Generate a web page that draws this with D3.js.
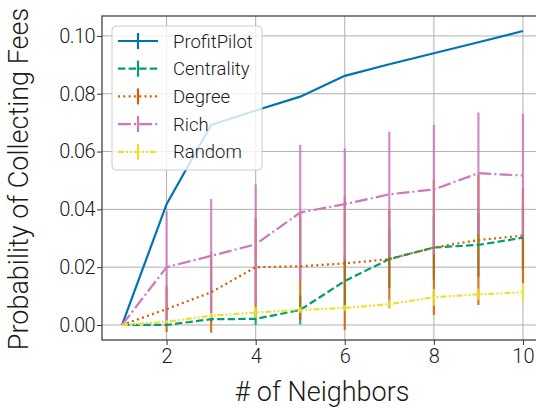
<!DOCTYPE html>
<html><head><meta charset="utf-8">
<script src="https://cdn.jsdelivr.net/npm/d3@7"></script>
<style>
body{margin:0;background:#fff;}
text{font-family:Roboto,"DejaVu Sans",sans-serif;font-weight:300;fill:#1a1a1a;}
</style></head>
<body><svg id="c" width="536" height="410"></svg>
<script>
const neighbors = [1,2,3,4,5,6,7,8,9,10];
const seriesNames = ["ProfitPilot","Centrality","Degree","Rich","Random"];
const profitPilot = [0, 0.0418, 0.0692, 0.0742, 0.0790, 0.0862, 0.0902, 0.0940, 0.0978, 0.1017];
const profitPilotErr = [0,0,0,0,0,0,0,0,0,0];
const centrality = [0, 0.0000, 0.0020, 0.0021, 0.0052, 0.0152, 0.0228, 0.0268, 0.0277, 0.0302];
const centralityErr = [0, 0.0004, 0.0010, 0.0020, 0.0050, 0.0090, 0.0100, 0.0110, 0.0110, 0.0110];
const degree = [0, 0.0055, 0.0113, 0.0200, 0.0203, 0.0213, 0.0228, 0.0268, 0.0294, 0.0309];
const degreeErr = [0, 0.0080, 0.0140, 0.0170, 0.0186, 0.0230, 0.0170, 0.0233, 0.0225, 0.0165];
const rich = [0, 0.0200, 0.0239, 0.0279, 0.0389, 0.0418, 0.0452, 0.0469, 0.0525, 0.0517];
const richErr = [0, 0.0194, 0.0197, 0.0207, 0.0234, 0.0193, 0.0217, 0.0223, 0.0210, 0.0214];
const random = [0, 0.0011, 0.0032, 0.0043, 0.0052, 0.0059, 0.0072, 0.0096, 0.0106, 0.0113];
const randomErr = [0, 0.0005, 0.0010, 0.0020, 0.0010, 0.0010, 0.0015, 0.0029, 0.0020, 0.0030];
const xTicks = [2,4,6,8,10];
const yTicks = [0,0.02,0.04,0.06,0.08,0.10];
const colors = ["#0173B2","#029E73","#D55E00","#CC78BC","#ECE133"];
const dashes = [null,"7.4,3.2","2,3.3","12.8,3.2,2,3.2","6,2,2,2,2,2"];

const values = [profitPilot, centrality, degree, rich, random];
const errs = [profitPilotErr, centralityErr, degreeErr, richErr, randomErr];

const svg = d3.select("#c");
const L=102, R=543, T=16, B=340;
const x = d3.scaleLinear().domain([0.55,10.45]).range([L,R]);
const y = d3.scaleLinear().domain([-0.0052,0.1069]).range([B,T]);

// grid
const g = svg.append("g");
g.selectAll(".gx").data(xTicks).enter().append("line")
  .attr("x1",d=>x(d)).attr("x2",d=>x(d)).attr("y1",T).attr("y2",B)
  .attr("stroke","#b0b0b0").attr("stroke-width",1);
g.selectAll(".gy").data(yTicks).enter().append("line")
  .attr("x1",L).attr("x2",R).attr("y1",d=>y(d)).attr("y2",d=>y(d))
  .attr("stroke","#b0b0b0").attr("stroke-width",1);

// error bars (drawn beneath lines)
values.forEach((vals,si)=>{
  svg.append("g").selectAll("line").data(neighbors).enter().append("line")
    .attr("x1",d=>x(d)).attr("x2",d=>x(d))
    .attr("y1",(d,i)=>y(vals[i]-errs[si][i])).attr("y2",(d,i)=>y(vals[i]+errs[si][i]))
    .attr("stroke",colors[si]).attr("stroke-width",2.2).attr("opacity",0.85);
});
// lines
values.forEach((vals,si)=>{
  const line = d3.line().x((d,i)=>x(neighbors[i])).y(d=>y(d));
  svg.append("path").datum(vals).attr("d",line).attr("fill","none")
    .attr("stroke",colors[si]).attr("stroke-width",2.2)
    .attr("stroke-dasharray",dashes[si]);
});

// axes
const xAxis = d3.axisBottom(x).tickValues(xTicks).tickFormat(d3.format("d")).tickSize(5).tickPadding(4);
const yAxis = d3.axisLeft(y).tickValues(yTicks).tickFormat(d3.format(".2f")).tickSize(5).tickPadding(2);
const xa = svg.append("g").attr("transform",`translate(0,${B})`).call(xAxis);
const ya = svg.append("g").attr("transform",`translate(${L},0)`).call(yAxis);
[xa,ya].forEach(a=>{
  a.select(".domain").remove();
  a.selectAll(".tick line").attr("stroke","#333");
  a.selectAll("text").style("font-family","Roboto").style("font-weight","300").attr("fill","#1a1a1a");
});
xa.selectAll("text").style("font-size","20px");
ya.selectAll("text").style("font-size","20px").style("letter-spacing","-0.6px");
// spines
svg.append("rect").attr("x",L).attr("y",T).attr("width",R-L).attr("height",B-T)
  .attr("fill","none").attr("stroke","#333").attr("stroke-width",1.2);

// labels
svg.append("text").attr("x",322).attr("y",401).attr("text-anchor","middle")
  .style("font-size","27px").text("# of Neighbors");
svg.append("text").attr("transform","translate(28,179) rotate(-90)").attr("text-anchor","middle")
  .style("font-size","27px").text("Probability of Collecting Fees");

// legend
const lg = svg.append("g");
lg.append("rect").attr("x",112).attr("y",26).attr("width",150).attr("height",144).attr("rx",4)
  .attr("fill","#fff").attr("fill-opacity",0.8).attr("stroke","#cccccc");
seriesNames.forEach((name,i)=>{
  const cy = 41 + i*27.7;
  lg.append("line").attr("x1",118).attr("x2",158).attr("y1",cy).attr("y2",cy)
    .attr("stroke",colors[i]).attr("stroke-width",2.2).attr("stroke-dasharray",dashes[i]);
  lg.append("line").attr("x1",138).attr("x2",138).attr("y1",cy-8).attr("y2",cy+8)
    .attr("stroke",colors[i]).attr("stroke-width",2.2);
  lg.append("text").attr("x",173).attr("y",cy+6.5).style("font-size","18.5px").text(name);
});
</script></body></html>
